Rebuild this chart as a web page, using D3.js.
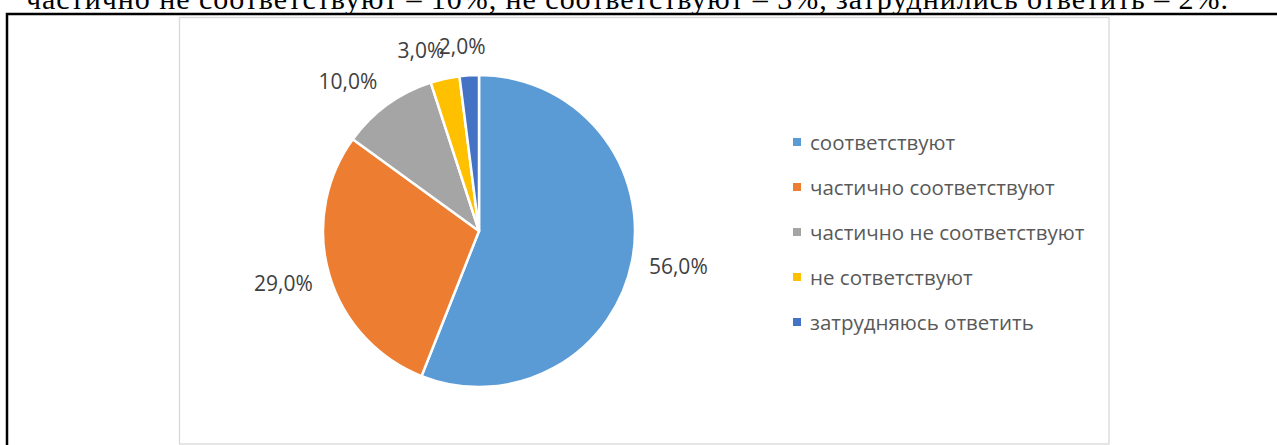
<!DOCTYPE html>
<html>
<head>
<meta charset="utf-8">
<script src="https://cdn.jsdelivr.net/npm/d3@7"></script>
<style>
  html, body { margin: 0; padding: 0; background: #fff; overflow: hidden; }
  svg { display: block; }
</style>
</head>
<body>
<div id="chart"></div>
<script>
// answer categories and shares (%)
const categories = ["соответствуют", "частично соответствуют", "частично не соответствуют", "не сответствуют", "затрудняюсь ответить"];
const shares = [56, 29, 10, 3, 2];
const colors = ["#5B9BD5", "#ED7D31", "#A5A5A5", "#FFC000", "#4472C4"];
const topLine = "частично не соответствуют – 10%, не соответствуют – 3%, затруднились ответить – 2%.";

const width = 1277, height = 445;
const svg = d3.select("#chart").append("svg")
    .attr("width", width)
    .attr("height", height);

// cut-off line of document text above the figure
svg.append("text")
    .attr("x", 26)
    .attr("y", 9)
    .attr("font-family", "'Liberation Serif', 'Times New Roman', serif")
    .attr("font-size", 30)
    .attr("fill", "#000")
    .attr("textLength", 1202)
    .attr("lengthAdjust", "spacing")
    .text(topLine);

// outer frame of the document table
svg.append("rect")
    .attr("x", 7).attr("y", 14)
    .attr("width", 1290).attr("height", 460)
    .attr("fill", "none")
    .attr("stroke", "#000")
    .attr("stroke-width", 2.5);

// chart area
const area = { x: 179.5, y: 17.5, w: 929.5, h: 426.5 };
svg.append("rect")
    .attr("x", area.x).attr("y", area.y)
    .attr("width", area.w).attr("height", area.h)
    .attr("fill", "#fff")
    .attr("stroke", "#d9d9d9")
    .attr("stroke-width", 1.3);

// pie
const cx = 479, cy = 231, r = 156;
const pie = d3.pie().sort(null).value(d => d)(shares);
const arc = d3.arc().innerRadius(0).outerRadius(r);

const g = svg.append("g").attr("transform", `translate(${cx},${cy})`);

g.selectAll(".slice")
    .data(pie)
    .enter()
    .append("path")
    .attr("class", "slice")
    .attr("d", arc)
    .attr("fill", (d, i) => colors[i])
    .attr("stroke", "#fff")
    .attr("stroke-width", 2.5)
    .attr("stroke-linejoin", "round");

// outside-end data labels
const fmt = v => d3.format(".1f")(v).replace(".", ",") + "%";
const labelFont = 21, gap = 17;

const labels = g.selectAll(".lbl")
    .data(pie)
    .enter()
    .append("text")
    .attr("class", "lbl")
    .attr("font-family", "'Open Sans', sans-serif")
    .attr("font-size", labelFont)
    .attr("fill", "#404040")
    .attr("text-anchor", "middle")
    .attr("dominant-baseline", "central")
    .text(d => fmt(d.data));

labels.each(function(d) {
    const a = (d.startAngle + d.endAngle) / 2;
    const ux = Math.sin(a), uy = -Math.cos(a);
    const w = this.getComputedTextLength(), h = 24;
    const kx = Math.max(-1, Math.min(1, ux * 4));
    d3.select(this)
        .attr("x", ux * (r + gap) + kx * w / 2)
        .attr("y", uy * (r + gap) + uy * h / 2);
});

// legend
const legend = svg.append("g").attr("transform", "translate(793,142)");
const item = legend.selectAll(".item")
    .data(categories)
    .enter()
    .append("g")
    .attr("class", "item")
    .attr("transform", (d, i) => `translate(0,${i * 45})`);

item.append("rect")
    .attr("x", 0).attr("y", -4)
    .attr("width", 8).attr("height", 8)
    .attr("fill", (d, i) => colors[i]);

item.append("text")
    .attr("x", 17)
    .attr("y", 0)
    .attr("dominant-baseline", "central")
    .attr("font-family", "'Open Sans', sans-serif")
    .attr("font-size", 20.5)
    .attr("fill", "#595959")
    .text(d => d);
</script>
</body>
</html>
